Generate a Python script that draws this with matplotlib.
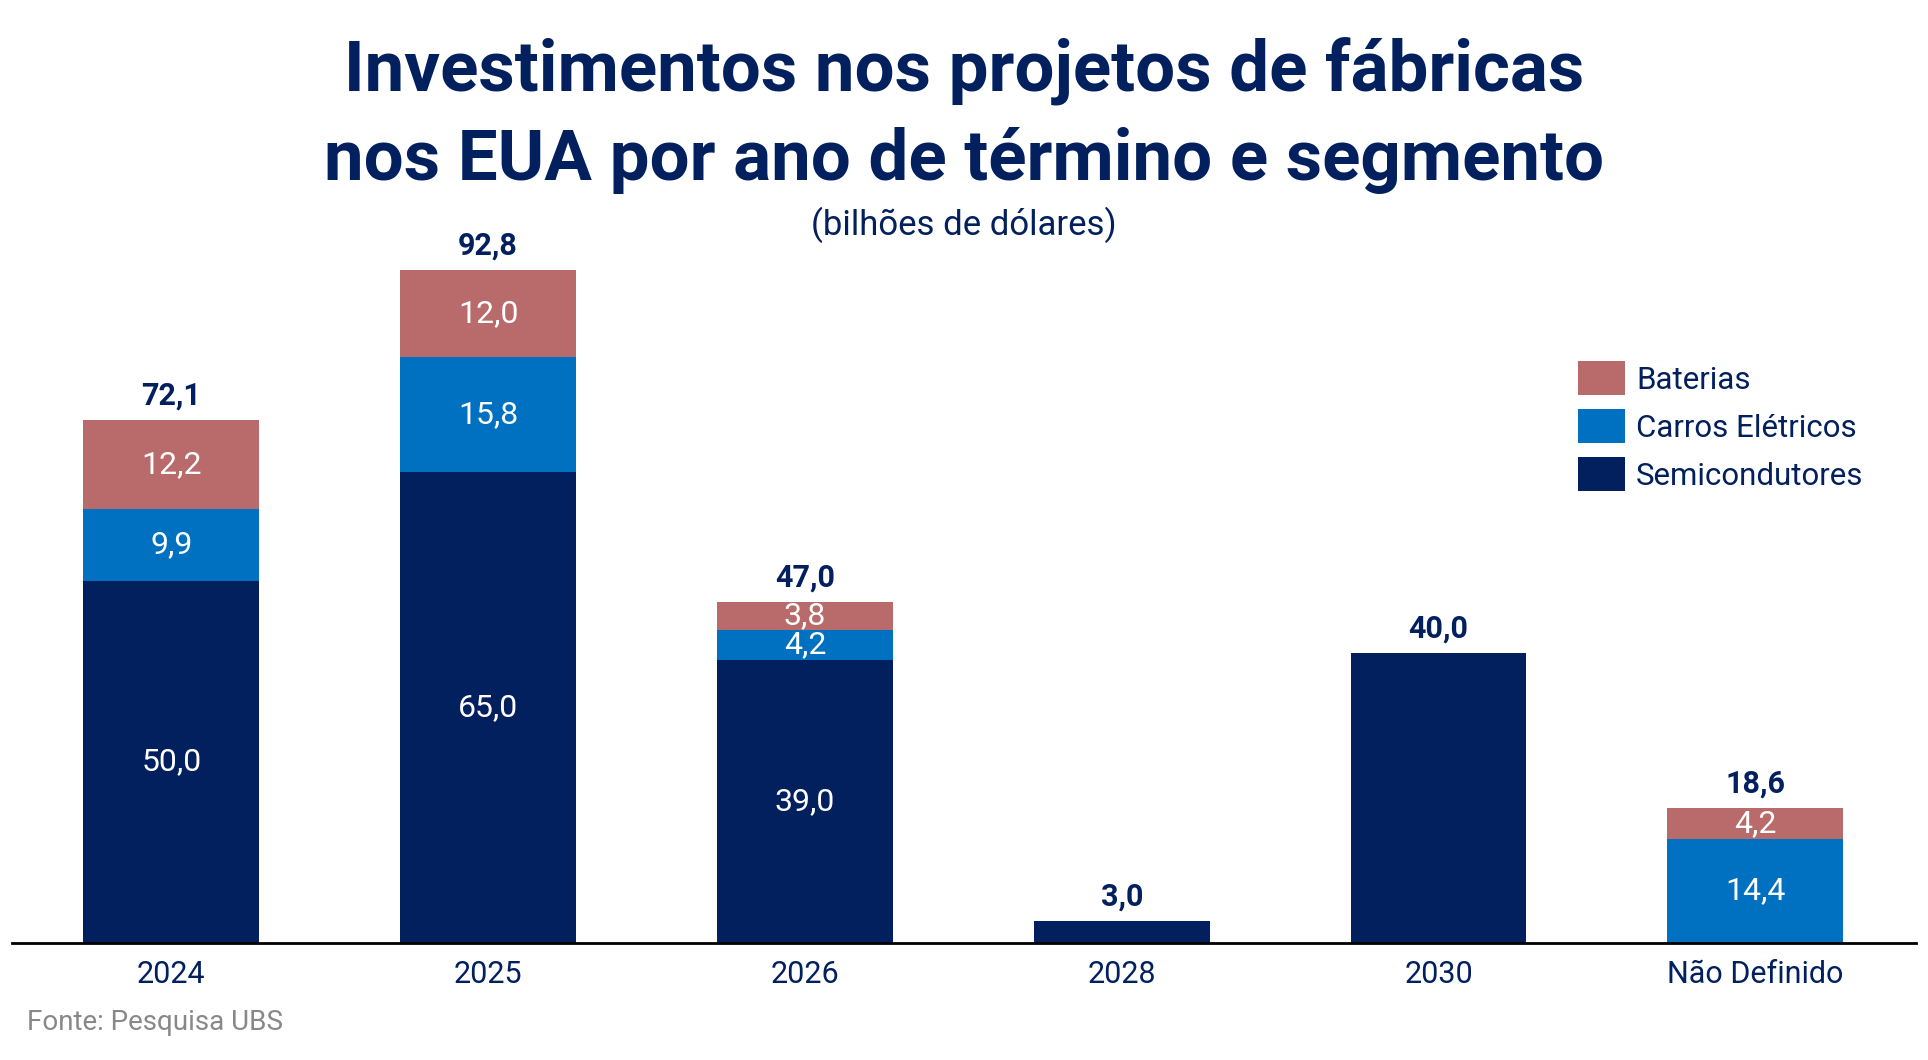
import numpy as np
import matplotlib.pyplot as plt

plt.rcParams['font.family'] = ['Roboto', 'DejaVu Sans']

anos = ['2024', '2025', '2026', '2028', '2030', 'Não Definido']
semicondutores = [50.0, 65.0, 39.0, 3.0, 40.0, 0.0]
carros = [9.9, 15.8, 4.2, 0.0, 0.0, 14.4]
baterias = [12.2, 12.0, 3.8, 0.0, 0.0, 4.2]
totais = [72.1, 92.8, 47.0, 3.0, 40.0, 18.6]

navy = '#02205E'
azul = '#0070C0'
rosa = '#B96B6B'

def fmt(v):
    return f'{v:.1f}'.replace('.', ',')

fig = plt.figure(figsize=(19.28, 10.60), dpi=100)
ax = fig.add_axes([12/1928, 1 - 943/1060, (1916 - 12)/1928, (943 - 200)/1060])

x = np.arange(len(anos))
w = 0.555
sem = np.array(semicondutores)
car = np.array(carros)
bat = np.array(baterias)

b1 = ax.bar(x, sem, w, color=navy, label='Semicondutores')
b2 = ax.bar(x, car, w, bottom=sem, color=azul, label='Carros Elétricos')
b3 = ax.bar(x, bat, w, bottom=sem + car, color=rosa, label='Baterias')

# valores dentro das barras (não nas barras de um só segmento)
for i in range(len(anos)):
    base = 0
    n_seg = sum(1 for vals in (sem, car, bat) if vals[i] > 0)
    for vals in (sem, car, bat):
        v = vals[i]
        if v > 0 and n_seg > 1:
            ax.text(x[i], base + v / 2, fmt(v), ha='center', va='center',
                    color='white', fontsize=23)
        base += v
    ax.text(x[i], totais[i] + 1.3, fmt(totais[i]), ha='center', va='bottom',
            color=navy, fontsize=22, fontweight='bold')

ax.set_xlim(-0.503, 5.507)
ax.set_ylim(0, 102.5)
ax.set_yticks([])
for s in ['top', 'right', 'left']:
    ax.spines[s].set_visible(False)
ax.spines['bottom'].set_linewidth(2)
ax.spines['bottom'].set_color('black')
ax.set_xticks(x)
ax.set_xticklabels(anos, fontsize=22, color=navy)
ax.tick_params(axis='x', length=0, pad=12)

leg = ax.legend(handles=[b3, b2, b1], loc='upper left',
                bbox_to_anchor=(1550/1928, 1 - 333/1060), bbox_transform=fig.transFigure,
                frameon=False, fontsize=22.5, handlelength=1.5, handleheight=1.3,
                labelspacing=0.45, handletextpad=0.35, labelcolor=navy)

fig.text(0.5, 1 - 71/1060, 'Investimentos nos projetos de fábricas', ha='center', va='center',
         fontsize=51, fontweight='bold', color=navy)
fig.text(0.5, 1 - 161/1060, 'nos EUA por ano de término e segmento', ha='center', va='center',
         fontsize=51, fontweight='bold', color=navy)
fig.text(0.5, 1 - 225/1060, '(bilhões de dólares)', ha='center', va='center',
         fontsize=25, color=navy)
fig.text(27/1928, 1 - 1023/1060, 'Fonte: Pesquisa UBS', ha='left', va='center',
         fontsize=20, color='#888888')

fig.savefig('out.png', dpi=100)
